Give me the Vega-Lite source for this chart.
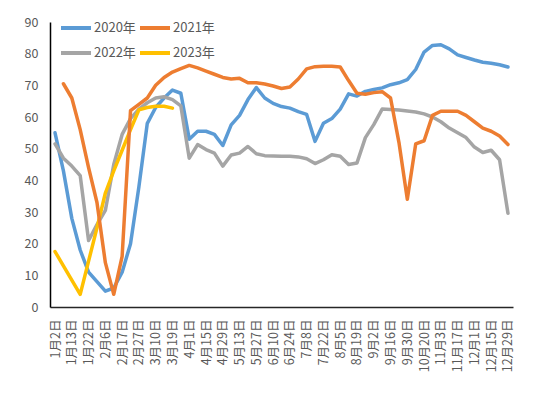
{
  "$schema": "https://vega.github.io/schema/vega-lite/v6.json",
  "width": 463,
  "height": 285,
  "autosize": {"type": "none"},
  "padding": {"left": 50, "top": 22, "right": 37, "bottom": 88},
  "background": "white",
  "config": {"view": {"stroke": null}, "font": "Noto Sans CJK SC"},
  "data": {"values": [
    {"date": "1月2日", "2020年": 55, "2022年": 51.5, "2023年": 17.5},
    {"date": "1月7日", "2020年": 43, "2021年": 70.5, "2022年": 47, "2023年": 13},
    {"date": "1月13日", "2020年": 28, "2021年": 66, "2022年": 44.5, "2023年": 8.5},
    {"date": "1月18日", "2020年": 18, "2021年": 56, "2022年": 41.5, "2023年": 4},
    {"date": "1月22日", "2020年": 11, "2021年": 44, "2022年": 21, "2023年": 14.5},
    {"date": "1月29日", "2020年": 8, "2021年": 33, "2022年": 26, "2023年": 25},
    {"date": "2月6日", "2020年": 5, "2021年": 14, "2022年": 30.5, "2023年": 36},
    {"date": "2月10日", "2020年": 6, "2021年": 4, "2022年": 45, "2023年": 43},
    {"date": "2月17日", "2020年": 11, "2021年": 16, "2022年": 54.5, "2023年": 49.5},
    {"date": "2月22日", "2020年": 20, "2021年": 62, "2022年": 59.5, "2023年": 56},
    {"date": "2月27日", "2020年": 38, "2021年": 64, "2022年": 62.5, "2023年": 62.3},
    {"date": "3月3日", "2020年": 58, "2021年": 66, "2022年": 64.5, "2023年": 63},
    {"date": "3月10日", "2020年": 63, "2021年": 70, "2022年": 66, "2023年": 63.4},
    {"date": "3月15日", "2020年": 66, "2021年": 72.5, "2022年": 66.4, "2023年": 63.4},
    {"date": "3月19日", "2020年": 68.5, "2021年": 74.2, "2022年": 65.5, "2023年": 62.8},
    {"date": "3月25日", "2020年": 67.5, "2021年": 75.3, "2022年": 63.5},
    {"date": "4月1日", "2020年": 53, "2021年": 76.3, "2022年": 47},
    {"date": "4月8日", "2020年": 55.5, "2021年": 75.5, "2022年": 51.3},
    {"date": "4月15日", "2020年": 55.5, "2021年": 74.5, "2022年": 49.7},
    {"date": "4月22日", "2020年": 54.5, "2021年": 73.5, "2022年": 48.6},
    {"date": "4月29日", "2020年": 51, "2021年": 72.5, "2022年": 44.5},
    {"date": "5月6日", "2020年": 57.5, "2021年": 72, "2022年": 48},
    {"date": "5月13日", "2020年": 60.5, "2021年": 72.2, "2022年": 48.6},
    {"date": "5月20日", "2020年": 65.5, "2021年": 70.8, "2022年": 50.7},
    {"date": "5月27日", "2020年": 69.3, "2021年": 70.8, "2022年": 48.4},
    {"date": "6月3日", "2020年": 66, "2021年": 70.4, "2022年": 47.8},
    {"date": "6月10日", "2020年": 64.3, "2021年": 69.8, "2022年": 47.7},
    {"date": "6月17日", "2020年": 63.3, "2021年": 69, "2022年": 47.6},
    {"date": "6月24日", "2020年": 62.8, "2021年": 69.5, "2022年": 47.6},
    {"date": "7月1日", "2020年": 61.7, "2021年": 72, "2022年": 47.4},
    {"date": "7月8日", "2020年": 60.8, "2021年": 75.2, "2022年": 46.8},
    {"date": "7月15日", "2020年": 52.3, "2021年": 75.9, "2022年": 45.3},
    {"date": "7月22日", "2020年": 58, "2021年": 76, "2022年": 46.5},
    {"date": "7月29日", "2020年": 59.5, "2021年": 76, "2022年": 48.1},
    {"date": "8月5日", "2020年": 62.5, "2021年": 75.8, "2022年": 47.6},
    {"date": "8月12日", "2020年": 67.3, "2021年": 71.5, "2022年": 45},
    {"date": "8月19日", "2020年": 66.6, "2021年": 67.5, "2022年": 45.5},
    {"date": "8月26日", "2020年": 68.1, "2021年": 67.2, "2022年": 53.5},
    {"date": "9月2日", "2020年": 68.7, "2021年": 67.7, "2022年": 57.6},
    {"date": "9月9日", "2020年": 69.2, "2021年": 68, "2022年": 62.5},
    {"date": "9月16日", "2020年": 70.2, "2021年": 66, "2022年": 62.4},
    {"date": "9月23日", "2020年": 70.8, "2021年": 52, "2022年": 62.2},
    {"date": "9月30日", "2020年": 71.8, "2021年": 34, "2022年": 61.9},
    {"date": "10月14日", "2020年": 75, "2021年": 51.5, "2022年": 61.6},
    {"date": "10月20日", "2020年": 80.5, "2021年": 52.5, "2022年": 61},
    {"date": "10月27日", "2020年": 82.6, "2021年": 60.5, "2022年": 60},
    {"date": "11月3日", "2020年": 82.8, "2021年": 61.8, "2022年": 58.5},
    {"date": "11月10日", "2020年": 81.5, "2021年": 61.8, "2022年": 56.5},
    {"date": "11月17日", "2020年": 79.6, "2021年": 61.8, "2022年": 55},
    {"date": "11月24日", "2020年": 78.8, "2021年": 60.5, "2022年": 53.5},
    {"date": "12月1日", "2020年": 78, "2021年": 58.5, "2022年": 50.5},
    {"date": "12月8日", "2020年": 77.3, "2021年": 56.5, "2022年": 48.8},
    {"date": "12月15日", "2020年": 77, "2021年": 55.5, "2022年": 49.5},
    {"date": "12月22日", "2020年": 76.5, "2021年": 54, "2022年": 46.5},
    {"date": "12月29日", "2020年": 75.8, "2021年": 51.3, "2022年": 29.6}
  ]},
  "transform": [
    {"fold": ["2020年", "2021年", "2022年", "2023年"], "as": ["year", "value"]},
    {"filter": "isValid(datum.value)"}
  ],
  "mark": {"type": "line", "strokeWidth": 3.5, "strokeCap": "round", "strokeJoin": "round"},
  "encoding": {
    "x": {
      "field": "date", "type": "ordinal", "sort": null,
      "scale": {"type": "point", "padding": 0.6},
      "axis": {
        "values": ["1月2日","1月13日","1月22日","2月6日","2月17日","2月27日","3月10日","3月19日","4月1日","4月15日","4月29日","5月13日","5月27日","6月10日","6月24日","7月8日","7月22日","8月5日","8月19日","9月2日","9月16日","9月30日","10月20日","11月3日","11月17日","12月1日","12月15日","12月29日"],
        "title": null, "labelAngle": -90, "ticks": false, "labelPadding": 12,
        "labelFontSize": 12.5, "labelColor": "#595959", "domainColor": "#262626",
        "domainWidth": 1.5, "grid": false, "labelOverlap": false
      }
    },
    "y": {
      "field": "value", "type": "quantitative",
      "scale": {"domain": [0, 90], "nice": false},
      "axis": {
        "values": [0, 10, 20, 30, 40, 50, 60, 70, 80, 90],
        "title": null, "ticks": false, "grid": false, "labelPadding": 12,
        "labelFontSize": 12.5, "labelColor": "#595959", "domainColor": "#000000",
        "domainWidth": 1.5
      }
    },
    "color": {
      "field": "year", "type": "nominal",
      "scale": {"domain": ["2020年", "2021年", "2022年", "2023年"], "range": ["#5B9BD5", "#ED7D31", "#A5A5A5", "#FFC000"]},
      "legend": {
        "orient": "none", "legendX": 9, "legendY": -11, "columns": 2, "direction": "horizontal",
        "symbolType": "stroke", "symbolSize": 900, "symbolStrokeWidth": 4,
        "labelFontSize": 13, "labelColor": "#595959", "columnPadding": -4,
        "rowPadding": -3, "title": null, "labelOffset": 1, "padding": 0
      }
    }
  }
}
